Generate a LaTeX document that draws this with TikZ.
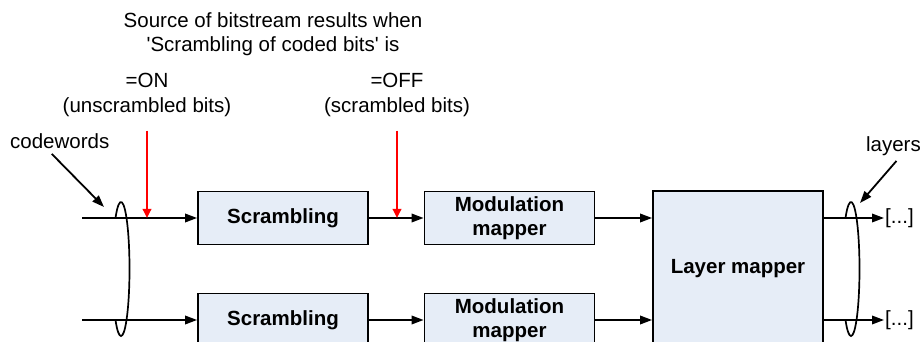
\documentclass[tikz,border=0pt]{standalone}
\usepackage{fontspec}
\setmainfont{Liberation Sans}
\usepackage{tikz}
\usetikzlibrary{calc,arrows.meta,positioning}
\definecolor{boxbg}{HTML}{E6EDF7}
\definecolor{redx}{HTML}{FF0000}
\tikzset{
  ar/.style={-{Triangle[length=12pt,width=8.5pt]},line width=1.8pt},
  rar/.style={-{Triangle[length=9pt,width=8.5pt]},line width=1.8pt,redx},
  blk/.style={draw,line width=1.8pt,fill=boxbg,font=\fontsize{20.5}{24.5}\selectfont\bfseries,align=center,minimum width=170pt,minimum height=53pt,inner sep=2pt},
  lbl/.style={align=center,inner sep=1pt},
  lasso/.style={line width=1.7pt}
}

\begin{document}
\begin{tikzpicture}[x=1pt,y=1pt,font=\fontsize{20.5}{24.5}\selectfont]
\useasboundingbox (0,0) rectangle (924,342);
\clip (0,0) rectangle (924,342);
\node[blk] (s1) at (283,124) {Scrambling};
\node[blk] (s2) at (283,22) {Scrambling};
\node[blk] (m1) at (509.5,124) {Modulation\\mapper};
\node[blk] (m2) at (509.5,22) {Modulation\\mapper};
\node[blk,minimum height=155pt] (lm) at (738,73.5) {Layer mapper};
\node[lbl] (src) at (273,308) {Source of bitstream results when\\\textquotesingle Scrambling of coded bits\textquotesingle{} is};
\node[lbl] (on) at (147,247) {=ON\\(unscrambled bits)};
\node[lbl] (off) at (397,247) {=OFF\\(scrambled bits)};
\node[lbl,anchor=base west] (cw) at (9,193.5) {codewords};
\node[lbl,anchor=base east] (ly) at (922,190.5) {layers};
\node[lbl,anchor=west] (o1) at (884,124) {[...]};
\node[lbl,anchor=west] (o2) at (884,22) {[...]};
\coordinate (i1) at (82,124);
\coordinate (i2) at (82,22);
\coordinate (cwtip) at (104,135);
\coordinate (lytip) at (860,139);
\coordinate (ein) at (121,73);
\coordinate (eout) at (851,73);
\draw[ar] (i1) -- (s1);
\draw[ar] (i2) -- (s2);
\draw[ar] (s1) -- (m1);
\draw[ar] (s2) -- (m2);
\draw[ar] (m1.east) -- (m1.east -| lm.west);
\draw[ar] (m2.east) -- (m2.east -| lm.west);
\draw[ar] (lm.east |- o1) -- (o1);
\draw[ar] (lm.east |- o2) -- (o2);
\draw[rar] ([yshift=-13pt]on.south) -- (on.south |- s1.west);
\draw[rar] ([yshift=-13pt]off.south) -- (off.south |- m1.west);
\draw[ar] ($(cw.south)+(-8,-4)$) -- (cwtip);
\draw[ar] ($(ly.south)+(3,-4)$) -- (lytip);
\draw[lasso] ($(ein)+(129:8.5 and 67)$) arc[start angle=129,end angle=-129,x radius=8.5,y radius=67];
\draw[lasso] ($(eout)+(129:8.5 and 67)$) arc[start angle=129,end angle=-129,x radius=8.5,y radius=67];
\end{tikzpicture}
\end{document}
